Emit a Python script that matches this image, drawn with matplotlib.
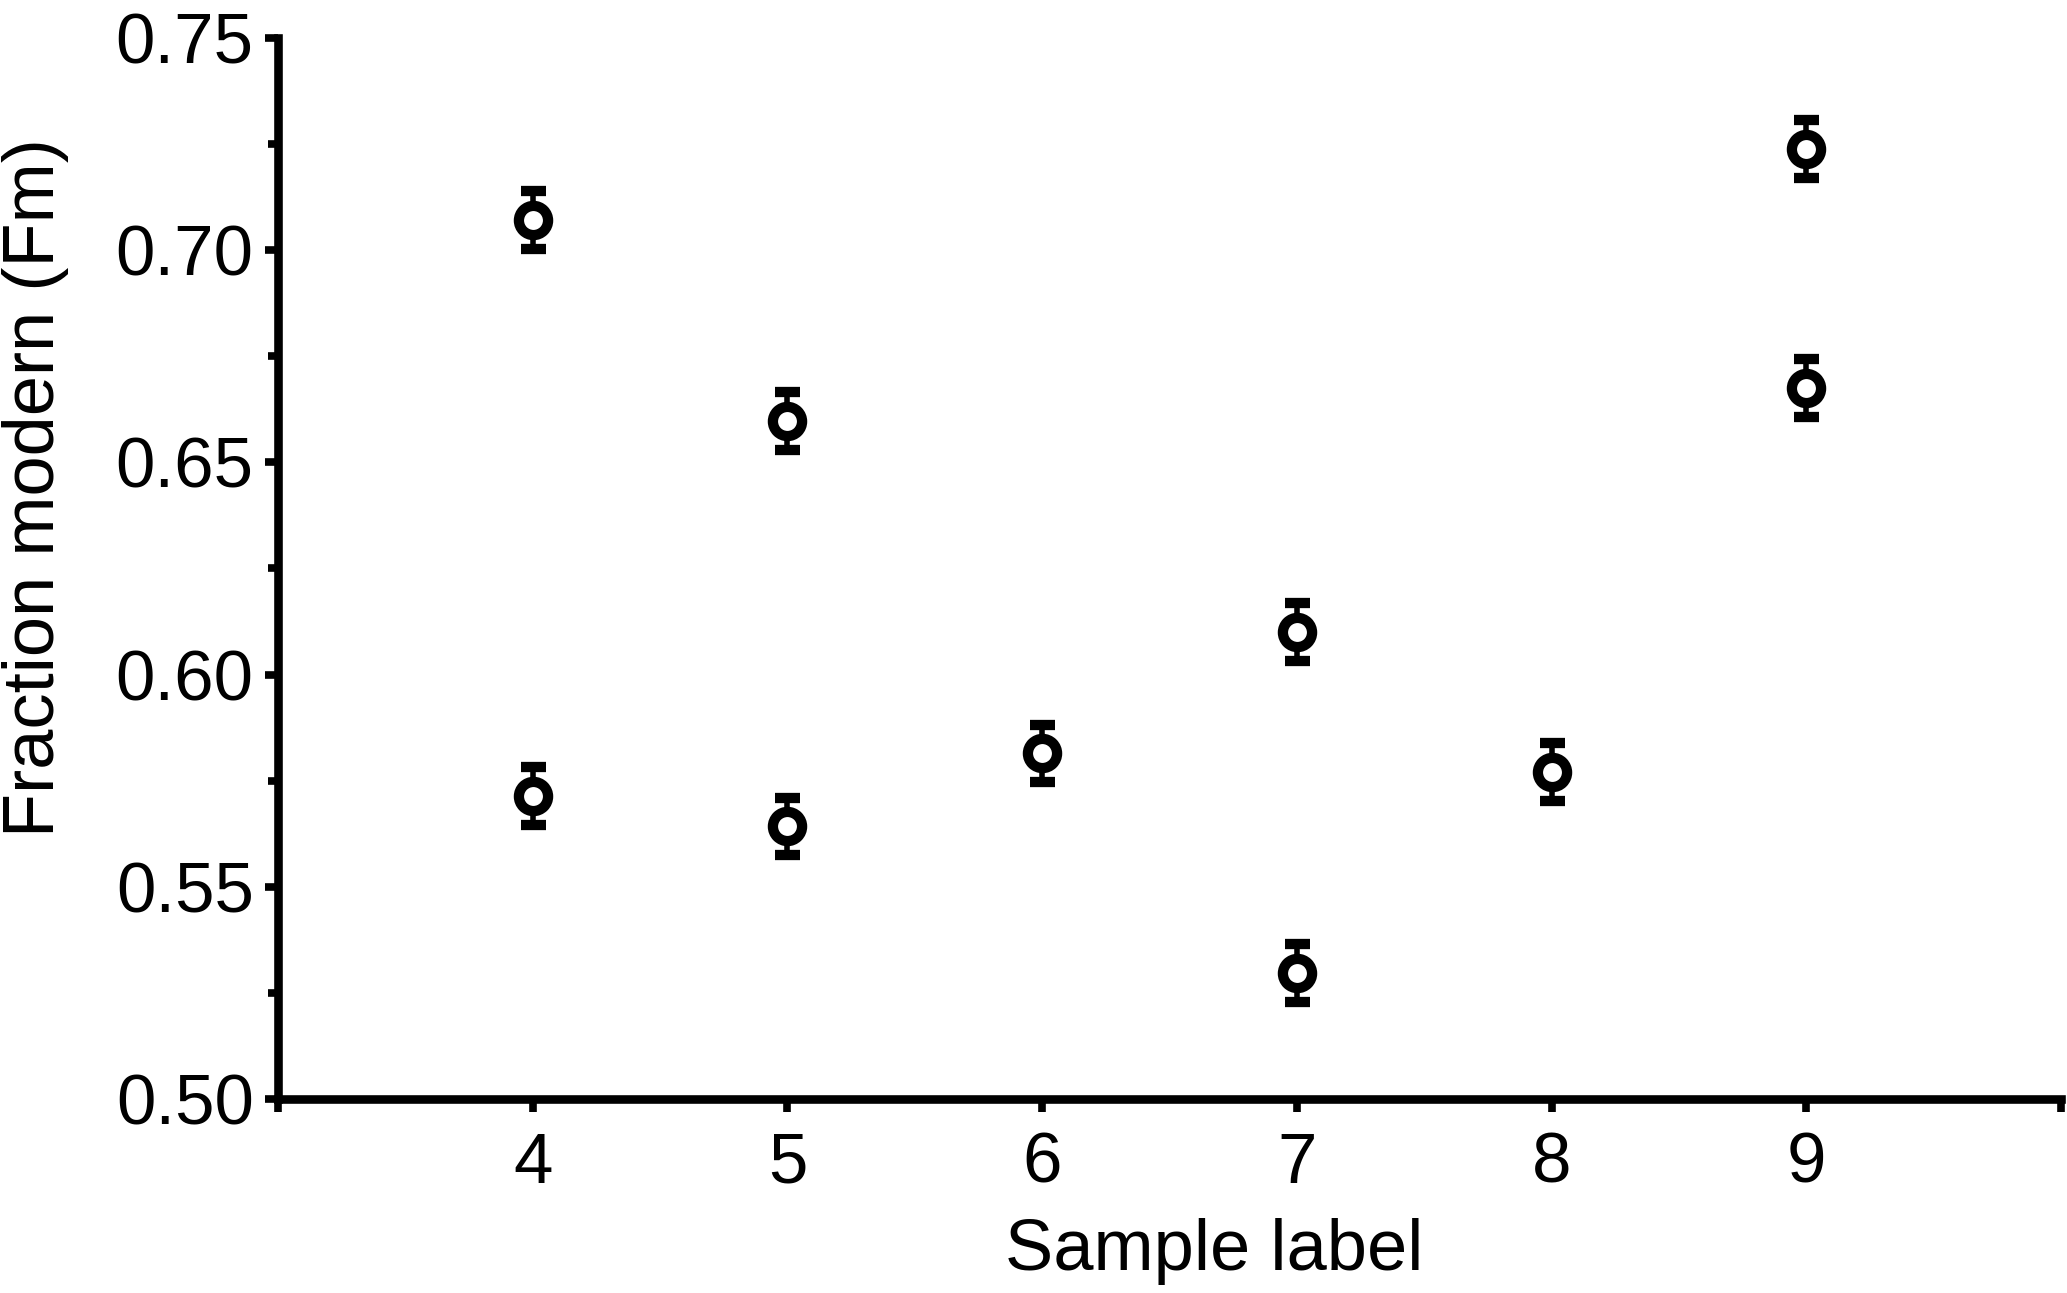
import matplotlib
matplotlib.use("Agg")
import matplotlib.pyplot as plt
from matplotlib.ticker import MultipleLocator

# sample label, fraction modern and its uncertainty
sample = [4, 4, 5, 5, 6, 7, 7, 8, 9, 9]
fm = [0.7071, 0.5713, 0.6598, 0.5642, 0.5814, 0.6100, 0.5297, 0.5770, 0.7239, 0.6675]
fm_err = [0.0068, 0.0068, 0.0068, 0.0068, 0.0068, 0.0068, 0.0068, 0.0068, 0.0068, 0.0068]

x_ticks = [3, 4, 5, 6, 7, 8, 9, 10]
x_ticklabels = ["", "4", "5", "6", "7", "8", "9", ""]

plt.rcParams["font.family"] = ["Liberation Sans", "DejaVu Sans"]

fig = plt.figure(figsize=(20.67, 12.93), dpi=100)
ax = fig.add_axes([0.1345, 0.1501, 0.8626, 0.8205])

ax.errorbar(sample, fm, yerr=fm_err, fmt="o", color="black",
            markerfacecolor="white", markeredgecolor="black",
            markersize=21, markeredgewidth=7.4,
            elinewidth=4, capsize=9, capthick=6, zorder=3)

ax.set_xlim(3, 10)
ax.set_ylim(0.50, 0.75)
ax.set_xticks(x_ticks)
ax.set_xticklabels(x_ticklabels)
ax.yaxis.set_major_locator(MultipleLocator(0.05))
ax.yaxis.set_minor_locator(MultipleLocator(0.025))
ax.yaxis.set_major_formatter(plt.FormatStrFormatter("%.2f"))

for side in ["top", "right"]:
    ax.spines[side].set_visible(False)
for side in ["left", "bottom"]:
    ax.spines[side].set_linewidth(6.2)

ax.tick_params(axis="both", which="major", direction="out", length=9.5, width=5.5,
               labelsize=51, color="black")
ax.tick_params(axis="y", which="major", pad=8)
ax.tick_params(axis="x", which="major", pad=14)
ax.tick_params(axis="y", which="minor", direction="out", length=7, width=5.5)

ax.set_xlabel("Sample label", fontsize=52)
ax.xaxis.set_label_coords(0.525, -0.112)
fig.text(0.001, 0.6226, "Fraction modern (Fm)", rotation=90, fontsize=52,
         ha="left", va="center")

fig.savefig("out.png", dpi=100)
